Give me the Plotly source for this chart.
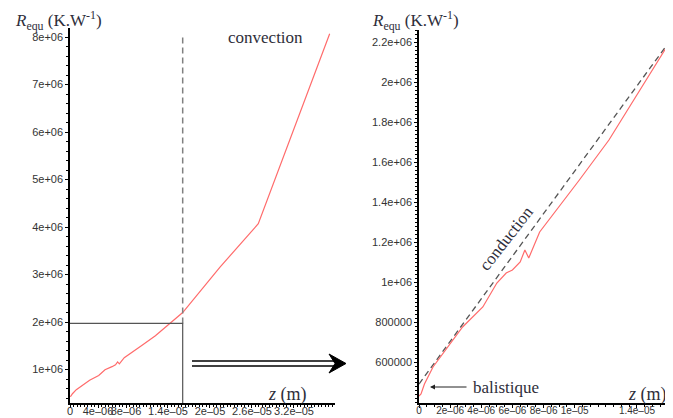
import plotly.graph_objects as go

# page is 673x418; the html body has an 8px default margin, so the figure is
# drawn 8px smaller and all layout positions are given in page pixels minus 8.
OFF = 8
W, H = 673 - OFF, 418 - OFF

# ---------------- data ----------------
# equivalent resistance curve (shared by both panels, z <= 1.6e-5)
z_fine = [0.0, 0.13e-6, 0.35e-6, 0.9e-6, 2.8e-6, 4.1e-6, 5.0e-6, 5.6e-6, 6.0e-6,
          6.5e-6, 6.8e-6, 7.05e-6, 7.75e-6, 10.3e-6, 12.2e-6, 16.1e-6]
R_fine = [0.43e6, 0.44e6, 0.49e6, 0.575e6, 0.775e6, 0.875e6, 0.995e6, 1.045e6, 1.06e6,
          1.10e6, 1.16e6, 1.12e6, 1.25e6, 1.51e6, 1.71e6, 2.20e6]
# convection region continuation (left panel only)
z_conv = [2.14e-5, 2.69e-5, 3.71e-5]
R_conv = [3.15e6, 4.07e6, 8.07e6]
# conduction asymptote (right panel)
z_cond = [0.0, 1.625e-5]
R_cond = [0.49e6, 2.22e6]
# zoom box drawn on the left panel
box_z = 1.61e-5
box_R = 1.97e6
dash_top = 8.0e6

left_xticks = [0, 4e-6, 8e-6, 1.4e-5, 2e-5, 2.6e-5, 3.2e-5]
left_xtext = ["0", "4e–06", "8e–06", "1.4e–05", "2e–05", "2.6e–05", "3.2e–05"]
left_yticks = [1e6, 2e6, 3e6, 4e6, 5e6, 6e6, 7e6, 8e6]
left_ytext = ["1e+06", "2e+06", "3e+06", "4e+06", "5e+06", "6e+06", "7e+06", "8e+06"]
right_xticks = [0, 2e-6, 4e-6, 6e-6, 8e-6, 1e-5, 1.4e-5]
right_xtext = ["0", "2e–06", "4e–06", "6e–06", "8e–06", "1e–05", "1.4e–05"]
right_yticks = [6e5, 8e5, 1e6, 1.2e6, 1.4e6, 1.6e6, 1.8e6, 2e6, 2.2e6]
right_ytext = ["600000", "800000", "1e+06", "1.2e+06", "1.4e+06", "1.6e+06",
               "1.8e+06", "2e+06", "2.2e+06"]

# ---------------- helpers ----------------
def px(x):
    return (x - OFF) / W

def py(y):
    return 1 - (y - OFF) / H

RED = "#ff6b6b"
SERIF = "Liberation Serif, DejaVu Serif, serif"
SANS = "Liberation Sans, Arial, sans-serif"
TXT = "#2e2e3a"

fig = go.Figure()

# left panel
fig.add_trace(go.Scatter(x=z_fine + z_conv, y=R_fine + R_conv, mode="lines",
                         line=dict(color=RED, width=1.2), xaxis="x", yaxis="y",
                         showlegend=False, hoverinfo="skip"))
fig.add_trace(go.Scatter(x=[box_z, box_z], y=[box_R, dash_top], mode="lines",
                         line=dict(color="#808080", width=1.5, dash="6px,4px"),
                         xaxis="x", yaxis="y", showlegend=False, hoverinfo="skip"))
fig.add_trace(go.Scatter(x=[0, box_z, box_z], y=[box_R, box_R, 0], mode="lines",
                         line=dict(color="#555555", width=1.2),
                         xaxis="x", yaxis="y", showlegend=False, hoverinfo="skip"))

# right panel
fig.add_trace(go.Scatter(x=z_cond, y=R_cond, mode="lines",
                         line=dict(color="#555555", width=1.3, dash="6px,4px"),
                         xaxis="x2", yaxis="y2", showlegend=False, hoverinfo="skip"))
fig.add_trace(go.Scatter(x=z_fine, y=R_fine, mode="lines",
                         line=dict(color=RED, width=1.2), xaxis="x2", yaxis="y2",
                         showlegend=False, hoverinfo="skip"))

ax_common = dict(showline=True, linecolor="black", linewidth=1.5, ticks="outside",
                 ticklen=3, tickwidth=1, tickcolor="black", showgrid=False,
                 zeroline=False, tickmode="array", automargin=False, tickangle=0)
font11 = dict(family=SANS, size=11, color="#333333")
font10 = dict(family=SANS, size=10, color="#333333")

yb, yt = py(403), py(28)
fig.update_layout(
    width=W, height=H, margin=dict(l=0, r=0, t=0, b=0, pad=0, autoexpand=False),
    paper_bgcolor="white", plot_bgcolor="white",
    xaxis=dict(domain=[px(70), px(335)], range=[0, 3.786e-5], anchor="y",
               tickvals=left_xticks, ticktext=left_xtext, ticklabelstandoff=-6,
               tickfont=font11,
               minor=dict(ticks="outside", ticklen=2, dtick=5e-7, tick0=0,
                          tickcolor="black"), **ax_common),
    yaxis=dict(domain=[yb, yt], range=[0.295e6, 8.19e6], anchor="x",
               tickvals=left_yticks, ticktext=left_ytext, tickfont=font11,
               minor=dict(ticks="outside", ticklen=2, dtick=2e5, tick0=0,
                          tickcolor="black"), **ax_common),
    xaxis2=dict(domain=[px(419), min(1.0, px(672))], range=[0, 1.625e-5], anchor="y2",
                tickvals=right_xticks, ticktext=right_xtext, ticklabelstandoff=-6,
                tickfont=font10,
                minor=dict(ticks="outside", ticklen=2, dtick=5e-7, tick0=0,
                           tickcolor="black"), **ax_common),
    yaxis2=dict(domain=[yb, py(30)], range=[0.395e6, 2.26e6], anchor="x2",
                tickvals=right_yticks, ticktext=right_ytext, tickfont=font11,
                minor=dict(ticks="outside", ticklen=2, dtick=2e4, tick0=0,
                           tickcolor="black"), **ax_common),
)

def label(text, x, y, size=17, xanchor="left", angle=0):
    fig.add_annotation(text=text, x=px(x), y=py(y), xref="paper", yref="paper",
                       showarrow=False, xanchor=xanchor, yanchor="middle",
                       textangle=angle, font=dict(family=SERIF, size=size, color=TXT))

ytitle = "<i>R</i><sub>equ</sub> (K.W<sup>-1</sup>)"
label(ytitle, 13, 20, size=17)
label(ytitle, 370, 20, size=17)
label("convection", 265, 38, size=17, xanchor="center")
label("<i>z</i> (m)", 266, 394, size=18)
label("<i>z</i> (m)", 626, 394, size=18)
label("conduction", 506, 238, size=17, xanchor="center", angle=-52)
label("balistique", 471, 387, size=17)

# balistique arrow (tail offset given in pixels)
fig.add_annotation(text="", x=px(430), y=py(387), xref="paper", yref="paper",
                   ax=38, ay=0, axref="pixel", ayref="pixel",
                   showarrow=True, arrowhead=2, arrowsize=1, arrowwidth=1,
                   arrowcolor="#222222")

# double arrow between the panels
for yy in (361, 366):
    fig.add_shape(type="line", xref="paper", yref="paper",
                  x0=px(192), x1=px(338), y0=py(yy), y1=py(yy),
                  line=dict(color="black", width=1.6))
head = (f"M {px(329)},{py(354)} L {px(346)},{py(363.5)} L {px(329)},{py(373)} "
        f"L {px(335)},{py(363.5)} Z")
fig.add_shape(type="path", xref="paper", yref="paper", path=head,
              fillcolor="black", line=dict(color="black", width=1))

fig.write_html("out.html")
